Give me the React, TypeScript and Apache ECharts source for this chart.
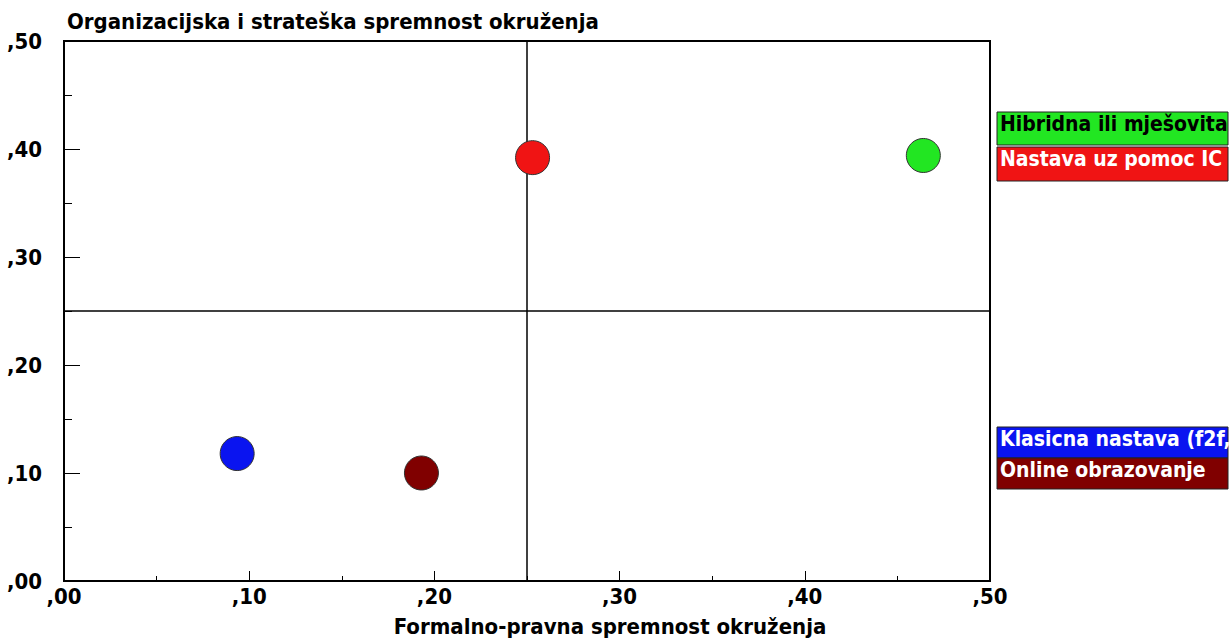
import React, { useEffect, useRef } from "react";
import * as echarts from "echarts";

const categories = ["Hibridna ili mješovita", "Nastava uz pomoc IC", "Klasicna nastava (f2f,", "Online obrazovanje"];
const xValues = [0.464, 0.253, 0.0935, 0.193];
const yValues = [0.394, 0.392, 0.118, 0.1];
const colors = ["#22e622", "#f01414", "#0a14f0", "#800000"];
const legendTextColors = ["#000000", "#ffffff", "#ffffff", "#ffffff"];
const xTitle = "Formalno-pravna spremnost okruženja";
const yTitle = "Organizacijska i strateška spremnost okruženja";
const refX = 0.25;
const refY = 0.25;

const FONT = '"Liberation Sans Narrow", "Arial Narrow", "DejaVu Sans Condensed", sans-serif';

const fmt = (v: number) => "," + String(Math.round(v * 100)).padStart(2, "0");

export default function App() {
  const ref = useRef<HTMLDivElement>(null);
  useEffect(() => {
    if (!ref.current) return;
    const chart = echarts.init(ref.current, null, { renderer: "svg" });
    const legendTops = [112, 147, 427, 458];
    const legendHeights = [33, 34, 31, 31];
    const graphic: any[] = [];
    categories.forEach((c, i) => {
      graphic.push({
        type: "rect",
        shape: { x: 997, y: legendTops[i], width: 231, height: legendHeights[i] },
        style: { fill: colors[i], stroke: "#222", lineWidth: 1 },
      });
      graphic.push({
        type: "text",
        x: 1000,
        y: legendTops[i] + 1,
        style: { text: c, fill: legendTextColors[i], font: `bold 21px ${FONT}`, verticalAlign: "top" },
      });
    });
    chart.setOption({
      animation: false,
      backgroundColor: "#ffffff",
      title: {
        text: yTitle,
        left: 62,
        top: 5,
        textStyle: { fontFamily: FONT, fontSize: 22, fontWeight: "bold", color: "#000" },
      },
      grid: {
        left: 64,
        top: 41,
        right: 240,
        bottom: 57,
        outerBoundsMode: "none",
        containLabel: false,
        show: true,
        borderColor: "#000",
        borderWidth: 2,
        backgroundColor: "transparent",
      },
      xAxis: {
        type: "value",
        min: 0,
        max: 0.5,
        interval: 0.1,
        name: xTitle,
        nameLocation: "middle",
        nameGap: 34,
        nameTextStyle: { fontFamily: FONT, fontSize: 22, fontWeight: "bold", color: "#000", padding: [0, 0, 0, 166] },
        axisLine: { lineStyle: { color: "#000", width: 2 } },
        axisTick: { inside: true, length: 10, lineStyle: { color: "#000", width: 1 } },
        minorTick: { show: true, splitNumber: 2, length: 5, lineStyle: { color: "#000", width: 1 } },
        splitLine: { show: false },
        axisLabel: { formatter: fmt, fontFamily: FONT, fontSize: 22, fontWeight: "bold", color: "#000", margin: 4 },
      },
      yAxis: {
        type: "value",
        min: 0,
        max: 0.5,
        interval: 0.1,
        axisLine: { show: true, lineStyle: { color: "#000", width: 2 } },
        axisTick: { show: true, inside: true, length: 16, lineStyle: { color: "#000", width: 1 } },
        minorTick: { show: true, splitNumber: 2, length: 8, lineStyle: { color: "#000", width: 1 } },
        splitLine: { show: false },
        axisLabel: { formatter: fmt, fontFamily: FONT, fontSize: 22, fontWeight: "bold", color: "#000", margin: 22 },
      },
      series: categories.map((c, i) => ({
        type: "scatter",
        name: c,
        symbolSize: 34,
        itemStyle: { color: colors[i], borderColor: "#333", borderWidth: 1, opacity: 1 },
        data: [[xValues[i], yValues[i]]],
        z: 5,
        ...(i === 0
          ? {
              markLine: {
                silent: true,
                symbol: "none",
                label: { show: false },
                lineStyle: { color: "#000", width: 1.5, type: "solid" },
                data: [{ xAxis: refX }, { yAxis: refY }],
                z: 1,
              },
            }
          : {}),
      })),
      graphic,
    });
    return () => chart.dispose();
  }, []);
  return <div ref={ref} style={{ position: "fixed", left: 0, top: 0, width: 1230, height: 638 }} />;
}
